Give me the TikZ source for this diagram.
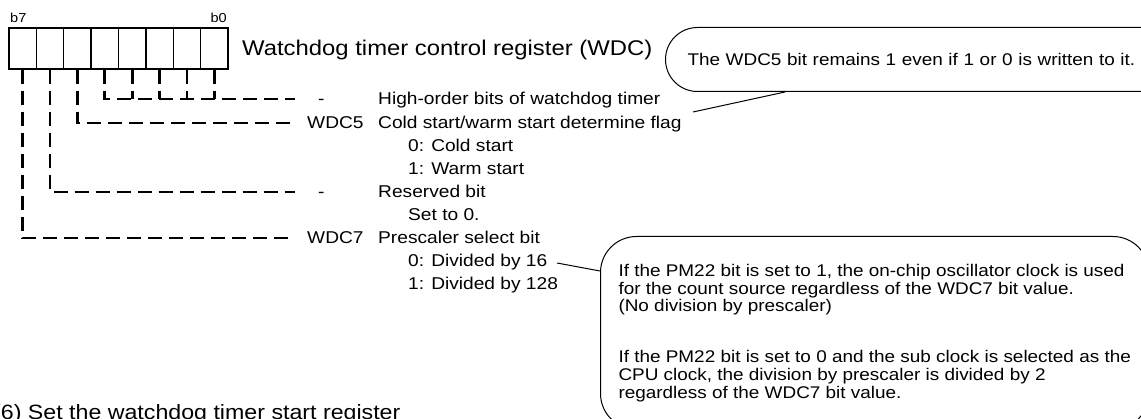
\documentclass[tikz,border=0pt]{standalone}
\usepackage{fontspec}
\setmainfont{Liberation Sans}[FakeStretch=1.12]
\usetikzlibrary{calc}

\tikzset{
    cell/.style={draw, line width=1.3pt, minimum width=27.4pt, minimum height=41pt, inner sep=0pt},
    bitline/.style={line width=2.7pt, dash pattern=on 14pt off 7pt},
    desc/.style={anchor=base west, inner sep=0pt, font=\fontsize{17.1}{20}\selectfont},
    note/.style={draw, line width=1pt, align=left, font=\fontsize{16.9}{17.8}\selectfont},
}

\begin{document}
\begin{tikzpicture}[x=1pt, y=-1pt]
            \useasboundingbox (0,0) rectangle (1141,419);

            % register cells, b7 on the left
            \foreach \b in {0,...,7}
                \node[cell] (c\b) at ({22.7+27.375*(7-\b)},48.5) {};
            \node[anchor=base west, inner sep=0pt, font=\fontsize{13}{15}\selectfont] (lb7) at (10,23) {b7};
            \node[anchor=base east, inner sep=0pt, font=\fontsize{13}{15}\selectfont] (lb0) at (227,23) {b0};
            \node[anchor=base west, inner sep=0pt, font=\fontsize{21.3}{24}\selectfont] (title) at (242,56) {Watchdog timer control register (WDC)};

            % ends of the dashed lines
            \coordinate (eHi)  at (295,99);
            \coordinate (eWDC5) at (295,123);
            \coordinate (eRes) at (295,192);
            \coordinate (eWDC7) at (295,238);

            \draw[bitline] (c0.south) -- (c0.south |- eHi);
            \draw[bitline] (c1.south) -- (c1.south |- eHi);
            \draw[bitline] (c2.south) -- (c2.south |- eHi);
            \draw[bitline] (c3.south) -- (c3.south |- eHi);
            \draw[bitline] (c4.south) |- (eHi);
            \draw[bitline] (c5.south) |- (eWDC5);
            \draw[bitline] (c6.south) |- (eRes);
            \draw[bitline] (c7.south) |- (eWDC7);

            % bit names and functions
            \node[desc] (nHi)   at (318,105) {-};
            \node[desc] (dHi)   at (378,105) {High-order bits of watchdog timer};
            \node[desc] (nWDC5) at (307,129) {WDC5};
            \node[desc] (dWDC5) at (378,129) {Cold start/warm start determine flag};
            \node[desc] (vCold) at (408,152) {0: Cold start};
            \node[desc] (vWarm) at (408,175) {1: Warm start};
            \node[desc] (nRes)  at (318,198) {-};
            \node[desc] (dRes)  at (378,198) {Reserved bit};
            \node[desc] (vRes)  at (408,221) {Set to 0.};
            \node[desc] (nWDC7) at (307,244) {WDC7};
            \node[desc] (dWDC7) at (378,244) {Prescaler select bit};
            \node[desc] (vDiv16)  at (408,267) {0: Divided by 16};
            \node[desc] (vDiv128) at (408,290) {1: Divided by 128};

            % notes
            \node[note, anchor=north west, minimum height=64pt, text width=500pt, inner xsep=22pt, rounded corners=32pt] (note1) at (665,27)
                {The WDC5 bit remains 1 even if 1 or 0 is written to it.};
            \node[note, anchor=north west, minimum height=193pt, minimum width=546pt, inner xsep=18pt, rounded corners=36pt] (note2) at (600,236)
                {If the PM22 bit is set to 1, the on-chip oscillator clock is used\\
                 for the count source regardless of the WDC7 bit value.\\
                 (No division by prescaler)\\[33pt]
                 If the PM22 bit is set to 0 and the sub clock is selected as the\\
                 CPU clock, the division by prescaler is divided by 2\\
                 regardless of the WDC7 bit value.};

            \coordinate (tip1) at (693,112);
            \coordinate (tip2) at (557,263);
            \draw[line width=1pt] ($(note1.south west)+(120,0)$) -- (tip1);
            \draw[line width=1pt] ($(note2.north west)+(0,35)$) -- (tip2);

            \node[anchor=base west, inner sep=0pt, font=\fontsize{20.7}{24}\selectfont] (step6) at (-7,420) {(6) Set the watchdog timer start register};
        \end{tikzpicture}
\end{document}
